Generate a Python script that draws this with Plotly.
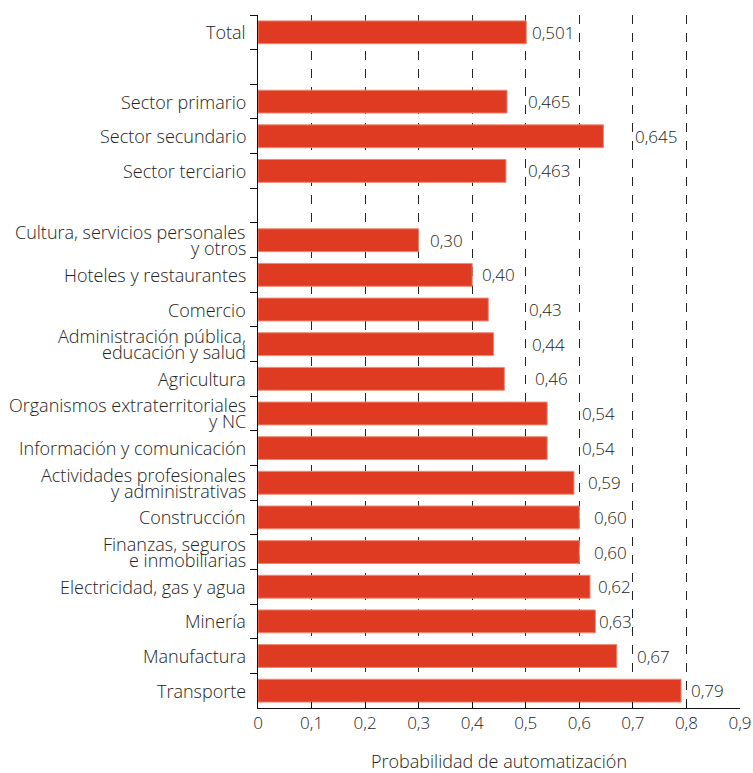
import plotly.graph_objects as go

categories = [
    "Total", " ", "Sector primario", "Sector secundario", "Sector terciario", "  ",
    "Cultura, servicios personales<br>y otros", "Hoteles y restaurantes", "Comercio",
    "Administración pública,<br>educación y salud", "Agricultura",
    "Organismos extraterritoriales<br>y NC", "Información y comunicación",
    "Actividades profesionales<br>y administrativas", "Construcción",
    "Finanzas, seguros<br>e inmobiliarias", "Electricidad, gas y agua", "Minería",
    "Manufactura", "Transporte",
]
values = [0.501, None, 0.465, 0.645, 0.463, None,
          0.30, 0.40, 0.43, 0.44, 0.46, 0.54, 0.54, 0.59, 0.60, 0.60, 0.62, 0.63, 0.67, 0.79]
labels = ["0,501", None, "0,465", "0,645", "0,463", None,
          "0,30", "0,40", "0,43", "0,44", "0,46", "0,54", "0,54", "0,59", "0,60", "0,60",
          "0,62", "0,63", "0,67", "0,79"]
label_shift_px = [4, 0, 19, 30, 20, 0, 9, 8, 39, 36, 29, 33, 33, 12, 13, 13, 6, 2, 18, 8]

FONT = "Open Sans"
TXT = "#222222"
SIZE = 18
fig = go.Figure()
fig.add_trace(go.Bar(
    y=categories, x=values, orientation="h",
    marker=dict(color="#DF3B22", line=dict(color="#EE8A74", width=1)),
    width=0.66, hoverinfo="skip",
))

# value labels
for c, v, t, s in zip(categories, values, labels, label_shift_px):
    if v is None:
        continue
    fig.add_annotation(x=v, y=c, text=t, xanchor="left", yanchor="middle",
                       xshift=s, showarrow=False,
                       font=dict(family=FONT, size=17, color=TXT, weight=300))

# category labels (one annotation per line, tight line spacing as in the original)
for c in categories:
    lines = c.split("<br>")
    n = len(lines)
    for i, ln in enumerate(lines):
        if not ln.strip():
            continue
        yshift = (n - 1) / 2 * 16 - i * 16
        fig.add_annotation(x=0, xref="paper", y=c, yref="y", text=ln,
                           xanchor="right", yanchor="middle", xshift=-10, yshift=yshift,
                           showarrow=False,
                           font=dict(family=FONT, size=SIZE, color=TXT, weight=300))

fig.update_layout(
    width=753, height=773,
    margin=dict(l=258, r=13, t=15, b=65),
    plot_bgcolor="white", paper_bgcolor="white",
    separators=", ",
    showlegend=False,
    font=dict(family=FONT, size=SIZE, color=TXT),
    xaxis=dict(
        range=[0, 0.9], dtick=0.1, tick0=0, automargin=False,
        showgrid=True, gridcolor="#222222", griddash="dash", gridwidth=1,
        zeroline=False,
        showline=True, linecolor="#111111", linewidth=1,
        ticks="inside", ticklen=6, tickcolor="#111111",
        tickfont=dict(family=FONT, size=17, color=TXT, weight=300),
        title=dict(text="Probabilidad de automatización",
                   font=dict(family=FONT, size=SIZE, color=TXT, weight=300), standoff=22),
    ),
    yaxis=dict(
        type="category", categoryorder="array", categoryarray=categories,
        autorange="reversed", automargin=False, showticklabels=False,
        tickson="boundaries", ticks="outside", ticklen=7, tickcolor="#111111",
        showgrid=False, showline=True, linecolor="#111111", linewidth=1,
    ),
    bargap=0.34,
)

fig.write_html("out.html")
